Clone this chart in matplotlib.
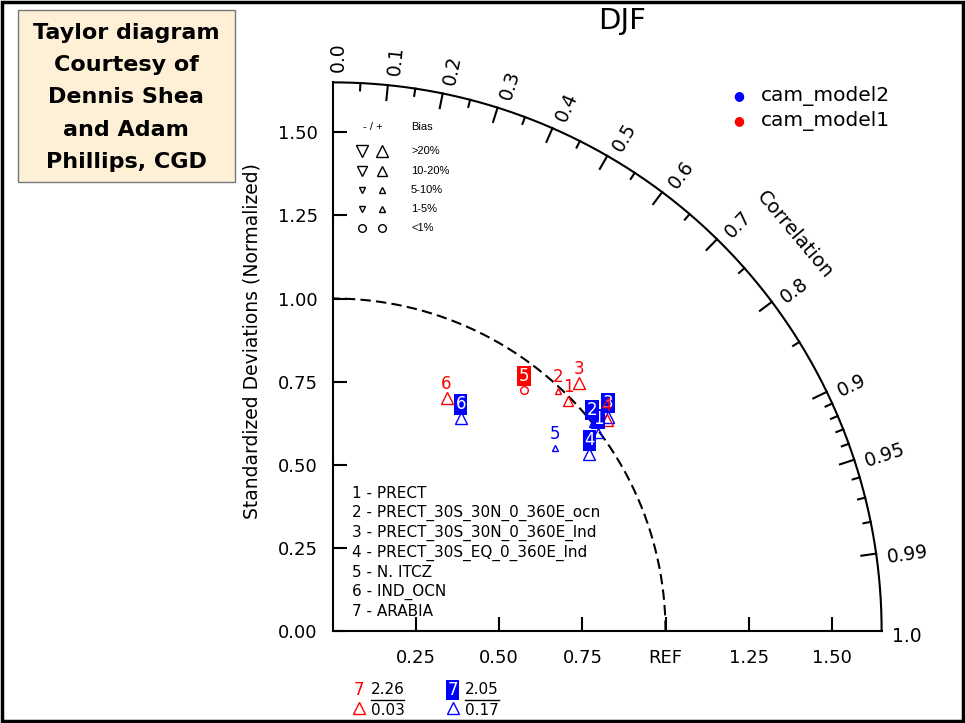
import numpy as np
import matplotlib.pyplot as plt
from matplotlib.patches import Rectangle

plt.rcParams['font.family'] = ['DejaVu Sans']

# ---- data ----
var_names = ['PRECT', 'PRECT_30S_30N_0_360E_ocn', 'PRECT_30S_30N_0_360E_lnd',
             'PRECT_30S_EQ_0_360E_lnd', 'N. ITCZ', 'IND_OCN', 'ARABIA']
case_names = ['cam_model1', 'cam_model2']
case_colors = ['red', 'blue']
# normalized std ratio, correlation, bias (%)
ratio_m1 = [0.99, 0.99, 1.05, 1.04, 0.925, 0.78, 2.26]
cc_m1 = [0.715, 0.684, 0.704, 0.792, 0.621, 0.438, 0.03]
bias_m1 = [15, 3, 35, 25, 0.5, 40, 30]
boxed_m1 = [False, False, False, False, True, False, False]
ratio_m2 = [0.995, 0.997, 1.048, 0.936, 0.865, 0.747, 2.05]
cc_m2 = [0.801, 0.781, 0.789, 0.823, 0.772, 0.515, 0.17]
bias_m2 = [12, 4, 30, 22, 2, 45, 28]
boxed_m2 = [True, True, True, True, False, True, True]

corr_major = [0.1, 0.2, 0.3, 0.4, 0.5, 0.6, 0.7, 0.8, 0.9, 0.95, 0.99]
corr_minor = [0.05, 0.15, 0.25, 0.35, 0.45, 0.55, 0.65, 0.75, 0.85,
              0.91, 0.92, 0.93, 0.94, 0.96, 0.97, 0.98]
corr_labels = ['0.0', '0.1', '0.2', '0.3', '0.4', '0.5', '0.6', '0.7', '0.8',
               '0.9', '0.95', '0.99', '1.0']
corr_label_vals = [0.0] + corr_major + [1.0]
xticks = [0.25, 0.5, 0.75, 1.0, 1.25, 1.5]
xticklabels = ['0.25', '0.50', '0.75', 'REF', '1.25', '1.50']
yticks = [0, 0.25, 0.5, 0.75, 1.0, 1.25, 1.5]
yticklabels = ['0.00', '0.25', '0.50', '0.75', '1.00', '1.25', '1.50']
bias_bins = ['>20%', '10-20%', '5-10%', '1-5%', '<1%']

rmax = 1.65
W, H = 965, 723


def bias_marker(b):
    a = abs(b)
    if a < 1:
        return 'o', 5.5
    m = '^' if b > 0 else 'v'
    if a > 20:
        return m, 8.5
    if a > 10:
        return m, 7
    if a > 5:
        return m, 5
    return m, 3.8


fig = plt.figure(figsize=(W / 100, H / 100), dpi=100)
scale = 332.5
ax = fig.add_axes([333 / W, (H - 631) / H, rmax * scale / W, rmax * scale / H])
ax.set_xlim(0, rmax)
ax.set_ylim(0, rmax)
for s in ['top', 'right']:
    ax.spines[s].set_visible(False)
for s in ['left', 'bottom']:
    ax.spines[s].set_linewidth(1.5)
ax.set_xticks(xticks)
ax.set_xticklabels(xticklabels)
ax.set_yticks(yticks)
ax.set_yticklabels(yticklabels)
ax.tick_params(direction='in', length=10, width=1.5, labelsize=13)
ax.tick_params(axis='x', pad=13)
ax.tick_params(axis='y', pad=11)
ax.text(-0.244, 0.872, 'Standardized Deviations (Normalized)', rotation=90,
        ha='center', va='center', fontsize=13.5)

# arcs
th = np.linspace(0, np.pi / 2, 400)
ax.plot(rmax * np.cos(th), rmax * np.sin(th), color='black', lw=1.5, clip_on=False)
ax.plot(np.cos(th), np.sin(th), color='black', lw=1.5, ls=(0, (5, 2.5)))

# correlation ticks
for c in corr_major:
    t = np.arccos(c)
    ax.plot([rmax * np.cos(t), (rmax - 0.045) * np.cos(t)],
            [rmax * np.sin(t), (rmax - 0.045) * np.sin(t)], color='black', lw=1.5)
for c in corr_minor:
    t = np.arccos(c)
    ax.plot([rmax * np.cos(t), (rmax - 0.022) * np.cos(t)],
            [rmax * np.sin(t), (rmax - 0.022) * np.sin(t)], color='black', lw=1.5)
for c, lab in zip(corr_label_vals, corr_labels):
    t = np.arccos(c) - 0.015 / 1.675
    ax.text(1.68 * np.cos(t), 1.68 * np.sin(t), lab, rotation=np.degrees(np.arccos(c)),
            rotation_mode='anchor', ha='left', va='center', fontsize=13.5, clip_on=False)
ta = np.radians(40.6)
ax.text(1.83 * np.cos(ta), 1.83 * np.sin(ta), 'Correlation', rotation=-50,
        ha='center', va='center', fontsize=14, rotation_mode='anchor')

# data points
cases = [(ratio_m2, cc_m2, bias_m2, boxed_m2, 'blue'),
         (ratio_m1, cc_m1, bias_m1, boxed_m1, 'red')]
out_x = {'red': 0.077, 'blue': 0.36}
for ratio, cc, bias, boxed, col in cases:
    for i in range(len(ratio)):
        m, ms = bias_marker(bias[i])
        if ratio[i] <= rmax:
            x = ratio[i] * cc[i]
            y = ratio[i] * np.sqrt(1 - cc[i] ** 2)
            ax.plot(x, y, marker=m, ms=ms, mfc='none', mec=col, mew=1.0, zorder=4)
            lx, ly, fs = x, y, 12
            off = 10
        else:
            # off-scale: listed below the plot
            lx, ly, fs = out_x[col], -0.177, 12
            ax.plot(lx, -0.232, marker=m, ms=ms, mfc='none', mec=col, mew=1.0,
                    clip_on=False)
            nx = lx + 0.088
            ax.text(nx, -0.177, '%.2f' % ratio[i], ha='center', va='center',
                    fontsize=11, clip_on=False)
            ax.text(nx, -0.239, '%.2f' % cc[i], ha='center', va='center',
                    fontsize=11, clip_on=False)
            ax.plot([nx - 0.05, nx + 0.05], [-0.207, -0.207], color='black', lw=1,
                    clip_on=False)
            off = 0
        if boxed[i]:
            ax.annotate(str(i + 1), (lx, ly), xytext=(0, off), textcoords='offset points',
                        ha='center', va='center', fontsize=fs, color='white',
                        bbox=dict(boxstyle='square,pad=0.08', fc=col, ec='none'),
                        zorder=5, annotation_clip=False)
        else:
            ax.annotate(str(i + 1), (lx, ly), xytext=(0, off), textcoords='offset points',
                        ha='center', va='center', fontsize=fs, color=col,
                        zorder=5, annotation_clip=False)

# variable list
for i, name in enumerate(var_names):
    ax.text(0.058, (631 - 493 - i * 19.8) / scale, '%d - %s' % (i + 1, name),
            ha='left', va='center', fontsize=11)

# bias legend
bx_down, bx_up, bx_txt = (362 - 333) / scale, (382 - 333) / scale, (411 - 333) / scale
ax.text((373 - 333) / scale, (631 - 127) / scale, '- / +', ha='center', va='center',
        fontsize=8, family='Liberation Sans')
ax.text(bx_txt, (631 - 127) / scale, 'Bias', ha='left', va='center', fontsize=8,
        family='Liberation Sans')
legend_bias = [30, 15, 7, 3, 0.5]
row_y = [151, 171, 190, 209, 228]
for lab, b, py in zip(bias_bins, legend_bias, row_y):
    yy = (631 - py) / scale
    m, ms = bias_marker(b)
    m2, _ = bias_marker(-b)
    ax.plot(bx_down, yy, marker=m2, ms=ms, mfc='none', mec='black', mew=1.0)
    ax.plot(bx_up, yy, marker=m, ms=ms, mfc='none', mec='black', mew=1.0)
    ax.text(bx_txt, yy, lab, ha='left', va='center', fontsize=8, family='Liberation Sans')

# case legend
for j, (name, col) in enumerate(zip(case_names[::-1], case_colors[::-1])):
    py = 96 + j * 25
    fig.text(739 / W, 1 - py / H, '\u25cf', color=col, ha='center', va='center', fontsize=9)
    fig.text(761 / W, 1 - py / H, name, ha='left', va='center', fontsize=14.5)

fig.text(622 / W, 1 - 21 / H, 'DJF', ha='center', va='center', fontsize=21)

# courtesy box
fig.patches.append(Rectangle((18 / W, 1 - 182 / H), 217 / W, 172 / H,
                             transform=fig.transFigure, fc='#fdf0d6', ec='#777777', lw=1))
box_lines = ['Taylor diagram', 'Courtesy of', 'Dennis Shea', 'and Adam', 'Phillips, CGD']
for k, line in enumerate(box_lines):
    fig.text(126 / W, 1 - (33 + k * 32.2) / H, line, ha='center', va='center',
             fontsize=16, fontweight='bold')

fig.patches.append(Rectangle((2 / W, 2 / H), 961 / W, 719 / H, transform=fig.transFigure,
                             fill=False, ec='black', lw=2.5))

fig.savefig('out.png', dpi=100)
